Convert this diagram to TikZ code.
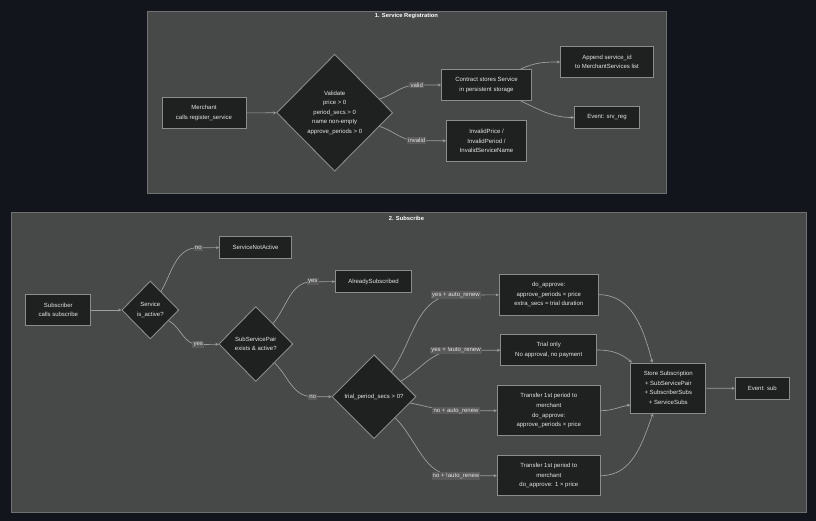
\documentclass[tikz,border=0pt]{standalone}
\usepackage{fontspec}
\setmainfont{Liberation Sans}
\usepackage{tikz}
\usetikzlibrary{shapes.geometric, arrows.meta}
\definecolor{pagebg}{HTML}{13151C}
\definecolor{clusterbg}{HTML}{474848}
\definecolor{clusterline}{HTML}{707070}
\definecolor{nodebg}{HTML}{1F2020}
\definecolor{nodeline}{HTML}{8C8C8C}
\definecolor{edgeline}{HTML}{9E9E9E}
\definecolor{lblbg}{HTML}{5A5A5A}
\definecolor{txt}{HTML}{E6E6E6}
\tikzset{
  cluster/.style={draw=clusterline, fill=clusterbg, line width=0.8pt},
  title/.style={font=\fontsize{5.8}{7}\selectfont\bfseries, text=white},
  box/.style={rectangle, draw=nodeline, fill=nodebg, line width=0.9pt,
    align=center, text=txt, font=\fontsize{6}{9.6}\selectfont, inner sep=1pt},
  decision/.style={diamond, aspect=1, draw=nodeline, fill=nodebg, line width=0.9pt,
    align=center, text=txt, font=\fontsize{6}{9.6}\selectfont, inner sep=0pt},
  lbl/.style={fill=lblbg, text=txt, font=\fontsize{6}{6.5}\selectfont, inner sep=1.2pt},
  arrow/.style={-{Stealth[length=3.2pt,width=3pt]}, edgeline, line width=0.7pt},
  wh/.style 2 args={minimum width=#1pt, minimum height=#2pt}
}
\begin{document}
\begin{tikzpicture}[x=1pt, y=1pt]
  \useasboundingbox (0,0) rectangle (816,521);
  \fill[pagebg] (0,0) rectangle (816,521);

  % 1. Service Registration
  \draw[cluster] (147,509.7) rectangle (666,327.7);
  \node[title] (t1) at (406.5,505) {1. Service Registration};
  \node[box, wh={84}{31}] (merch) at (204,408) {Merchant\\calls register\_service};
  \node[decision, wh={116}{117}] (val) at (334.7,408.3)
    {Validate\\price > 0\\period\_secs > 0\\name non-empty\\approve\_periods > 0};
  \node[box, wh={90}{31}] (con) at (486.5,436) {Contract stores Service\\in persistent storage};
  \node[box, wh={93}{31}] (app) at (607,459) {Append service\_id\\to MerchantServices list};
  \node[box, wh={65}{22}] (srvev) at (607,403.5) {Event: srv\_reg};
  \node[box, wh={80}{41}] (inv) at (486.5,380) {InvalidPrice /\\InvalidPeriod /\\InvalidServiceName};
  \coordinate (lvalid) at (416.7,436);
  \coordinate (linvalid) at (416.7,380.3);

  \draw[arrow] (merch) -- (val);
  \draw[arrow] (val) to[out=17, in=180] (lvalid) -- (con);
  \draw[arrow] (val) to[out=-17, in=180] (linvalid) -- (inv);
  \draw[arrow] (con) to[out=25, in=180] (app);
  \draw[arrow] (con) to[out=-25, in=180] (srvev);
  \node[lbl] at (lvalid) {valid};
  \node[lbl] at (linvalid) {invalid};

  % 2. Subscribe
  \draw[cluster] (11,308.5) rectangle (806,9);
  \node[title] (t2) at (406.5,303) {2. Subscribe};
  \node[box, wh={65}{31}] (subr) at (58.3,211) {Subscriber\\calls subscribe};
  \node[decision, wh={57}{58}] (svc) at (150.3,211) {Service\\is\_active?};
  \node[box, wh={72}{22}] (sna) at (255.5,273.5) {ServiceNotActive};
  \node[decision, wh={74}{75}] (ssp) at (255.8,177) {SubServicePair\\exists \& active?};
  \node[box, wh={76}{22}] (already) at (373.5,239.5) {AlreadySubscribed};
  \node[decision, wh={84}{84}] (trial) at (374,124.3) {trial\_period\_secs > 0?};
  \node[box, wh={99}{41}] (doap) at (548.8,226.3)
    {do\_approve:\\approve\_periods × price\\extra\_secs = trial duration};
  \node[box, wh={96}{31}] (tonly) at (548.7,171) {Trial only\\No approval, no payment};
  \node[box, wh={103}{50}] (tr1) at (548.8,110.3)
    {Transfer 1st period to\\merchant\\do\_approve:\\approve\_periods × price};
  \node[box, wh={103}{40}] (tr2) at (548.8,45.3)
    {Transfer 1st period to\\merchant\\do\_approve: 1 × price};
  \node[box, wh={75}{50}] (store) at (668.3,133)
    {Store Subscription\\+ SubServicePair\\+ SubscriberSubs\\+ ServiceSubs};
  \node[box, wh={54}{22}] (subev) at (762.3,132.5) {Event: sub};
  \coordinate (lno1) at (198.3,273.3);
  \coordinate (lyes1) at (198.3,176.5);
  \coordinate (lyes2) at (312.7,239.3);
  \coordinate (lno2) at (312.7,124.3);
  \coordinate (lyauto) at (456,226);
  \coordinate (lynoauto) at (456,170.6);
  \coordinate (lnauto) at (456,110.3);
  \coordinate (lnnoauto) at (456,45.3);

  \draw[arrow] (subr) -- (svc);
  \draw[arrow] (svc) to[out=60, in=180] (lno1) -- (sna);
  \draw[arrow] (svc) to[out=-30, in=180] (lyes1) -- (ssp);
  \draw[arrow] (ssp) to[out=50, in=180] (lyes2) -- (already);
  \draw[arrow] (ssp) to[out=-45, in=180] (lno2) -- (trial);
  \draw[arrow] (trial) to[out=55, in=180] (lyauto) -- (doap);
  \draw[arrow] (trial) to[out=30, in=180] (lynoauto) -- (tonly);
  \draw[arrow] (trial) to[out=-10, in=180] (lnauto) -- (tr1);
  \draw[arrow] (trial) to[out=-45, in=180] (lnnoauto) -- (tr2);
  \draw[arrow] (doap.east) to[out=0, in=105] (store.122);
  \draw[arrow] (tonly.east) to[out=0, in=140] (store.145);
  \draw[arrow] (tr1.east) to[out=0, in=190] (store.204);
  \draw[arrow] (tr2.east) to[out=0, in=-110] (store.239);
  \draw[arrow] (store) -- (subev);
  \node[lbl] at (lno1) {no};
  \node[lbl] at (lyes1) {yes};
  \node[lbl] at (lyes2) {yes};
  \node[lbl] at (lno2) {no};
  \node[lbl] at (lyauto) {yes + auto\_renew};
  \node[lbl] at (lynoauto) {yes + !auto\_renew};
  \node[lbl] at (lnauto) {no + auto\_renew};
  \node[lbl] at (lnnoauto) {no + !auto\_renew};
\end{tikzpicture}
\end{document}
